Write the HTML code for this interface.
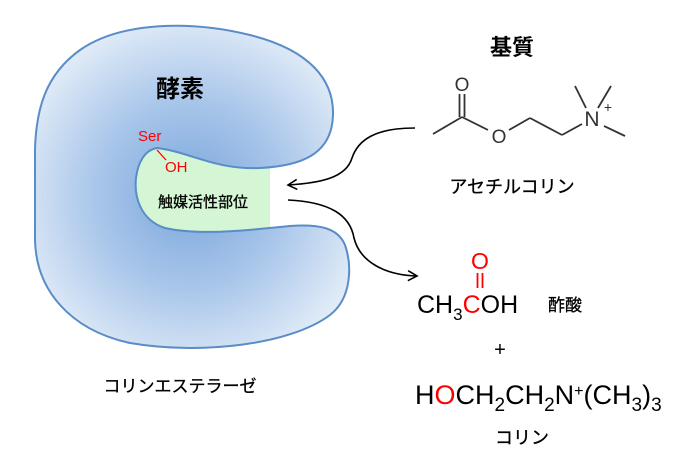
<!DOCTYPE html>
<html><head><meta charset="utf-8"><style>
html,body{margin:0;padding:0;background:#fff;}
svg{display:block;}
text{font-family:"Liberation Sans","Noto Sans CJK JP",sans-serif;}
</style></head><body>
<svg width="694" height="465" viewBox="0 0 694 465" xmlns="http://www.w3.org/2000/svg">
<defs>
<radialGradient id="g" cx="190" cy="195" r="190" gradientUnits="userSpaceOnUse">
<stop offset="0" stop-color="#7aa6dc"/>
<stop offset="0.5" stop-color="#a9c6ea"/>
<stop offset="1" stop-color="#e6eff9"/>
</radialGradient>
<marker id="a" markerWidth="12" markerHeight="12" refX="10" refY="6" orient="auto" markerUnits="userSpaceOnUse">
<path d="M1,1 L10,6 L1,11" fill="none" stroke="#000" stroke-width="1.6"/>
</marker>
</defs>
<path d="M130,140 L270,140 L270,228 L130,236 Z" fill="#d4f6d4"/>
<path d="M157,148 C190,152 215,170 260,168 C300,166 332,155 333,115 C334,80 310,50 250,35 C190,20 120,22 80,50 C45,75 36,110 35,150 L35,240 C36,290 70,330 130,343 C200,355 290,345 330,315 C352,298 352,265 345,245 C338,228 320,224 290,226 C250,230 200,236 165,228 C140,220 134,196 136,178 C138,162 145,150 157,148 Z" fill="url(#g)" stroke="#5a8cc6" stroke-width="2"/>
<text x="180" y="97" font-size="24" font-weight="bold" text-anchor="middle">酵素</text>
<text x="138" y="141" font-size="15" fill="#f00">Ser</text>
<line x1="157" y1="150" x2="166" y2="160" stroke="#f00" stroke-width="1.3"/>
<text x="165" y="172" font-size="15" fill="#f00">OH</text>
<text x="203" y="207" font-size="15" text-anchor="middle" stroke="#000" stroke-width="0.3">触媒活性部位</text>
<text x="180" y="392" font-size="17" text-anchor="middle" stroke="#000" stroke-width="0.3">コリンエステラーゼ</text>
<path d="M415,128 C375,128 358,140 352,158 C346,178 320,183 288,185" fill="none" stroke="#000" stroke-width="1.6" marker-end="url(#a)"/>
<path d="M288,200 C330,202 350,215 354,238 C360,262 385,275 417,276" fill="none" stroke="#000" stroke-width="1.6" marker-end="url(#a)"/>
<text x="512" y="55" font-size="22" font-weight="bold" text-anchor="middle">基質</text>
<g stroke="#333" stroke-width="1.8" fill="none">
<line x1="433" y1="134" x2="462" y2="117"/>
<line x1="459.5" y1="117" x2="459.5" y2="94"/>
<line x1="464.5" y1="117" x2="464.5" y2="94"/>
<line x1="462" y1="117" x2="488" y2="130"/>
<line x1="509" y1="130" x2="530" y2="118"/>
<line x1="530" y1="118" x2="562" y2="135"/>
<line x1="562" y1="135" x2="582" y2="124"/>
<line x1="586" y1="108" x2="575" y2="86"/>
<line x1="598" y1="108" x2="611" y2="86"/>
<line x1="604" y1="126" x2="625" y2="136"/>
</g>
<text x="462" y="91" font-size="19" fill="#333" text-anchor="middle">O</text>
<text x="499" y="143" font-size="19" fill="#333" text-anchor="middle">O</text>
<text x="592" y="126" font-size="21" fill="#333" text-anchor="middle">N</text>
<text x="608" y="112" font-size="14" fill="#333" text-anchor="middle">+</text>
<text x="512" y="193" font-size="18" text-anchor="middle" stroke="#000" stroke-width="0.3">アセチルコリン</text>
<text x="480" y="269" font-size="23" fill="#f00" text-anchor="middle">O</text>
<line x1="477.5" y1="273" x2="477.5" y2="288" stroke="#f00" stroke-width="1.8"/>
<line x1="482.5" y1="273" x2="482.5" y2="288" stroke="#f00" stroke-width="1.8"/>
<text x="417" y="313" font-size="25">CH<tspan font-size="17" dy="7">3</tspan><tspan dy="-7" fill="#f00">C</tspan>OH</text>
<text x="548" y="311" font-size="17" stroke="#000" stroke-width="0.3">酢酸</text>
<text x="500" y="356" font-size="20" text-anchor="middle">+</text>
<text x="415" y="404" font-size="27">H<tspan fill="#f00">O</tspan>CH<tspan font-size="19" dy="7">2</tspan><tspan dy="-7">CH</tspan><tspan font-size="19" dy="7">2</tspan><tspan dy="-7">N</tspan><tspan font-size="16" dy="-8">+</tspan><tspan dy="8">(CH</tspan><tspan font-size="19" dy="7">3</tspan><tspan dy="-7">)</tspan><tspan font-size="19" dy="7">3</tspan></text>
<text x="522" y="444" font-size="18" text-anchor="middle" stroke="#000" stroke-width="0.3">コリン</text>
</svg>
</body></html>
